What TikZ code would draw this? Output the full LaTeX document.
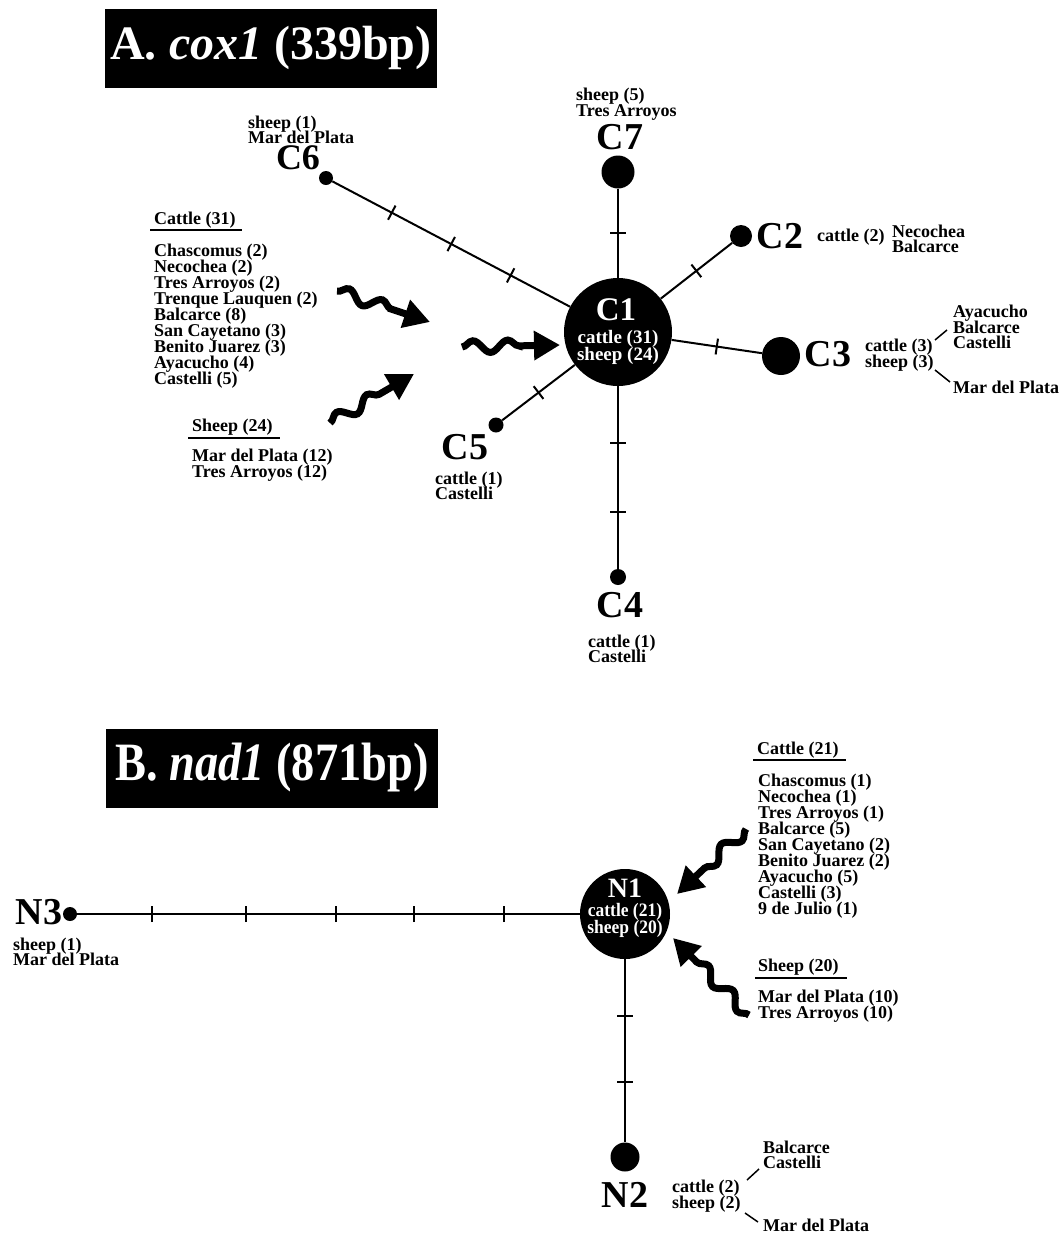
\documentclass[tikz,border=0pt]{standalone}
\usepackage{fontspec}
\usepackage{graphicx}
\setmainfont{Liberation Serif}
\usetikzlibrary{arrows.meta,decorations.pathmorphing,decorations.markings}
\setlength{\lineskiplimit}{-100pt}
\newcommand{\tk}{\draw[line width=2pt] (0pt,-8pt)--(0pt,8pt);}
\tikzset{
 lbl/.style={font=\fontsize{18}{15.5}\selectfont\bfseries, inner sep=0pt, align=left, anchor=west},
 lst/.style={font=\fontsize{18}{16}\selectfont\bfseries, inner sep=0pt, align=left, anchor=west},
 big/.style={font=\fontsize{38}{38}\selectfont\bfseries, inner sep=0pt},
 inw/.style={font=\fontsize{19}{17}\selectfont\bfseries, text=white, inner sep=0pt, align=center},
 dot/.style={circle, fill=black, inner sep=0pt, minimum size=#1},
 edge/.style={line width=2pt},
 wavy/.style={line width=7pt, decorate, decoration={snake, amplitude=6pt, segment length=35pt, post length=26pt}, -{Triangle[length=26pt,width=28pt]}},
 titlebox/.style={fill=black, text=white, inner sep=0pt, minimum width=332pt, minimum height=79pt},
 under/.style={line width=1.5pt},
 thin/.style={line width=1.5pt},
}
\begin{document}
\begin{tikzpicture}[x=1pt,y=-1pt]
\useasboundingbox (0,0) rectangle (1064,1235);

% ---------------- Panel A ----------------
\node[titlebox] (tA) at (271,48) {\fontsize{48}{48}\selectfont\bfseries A. \textit{cox1} (339bp)};

\node[dot=108] (C1) at (618,332) {};
\node[font=\fontsize{33}{33}\selectfont\bfseries, text=white, inner sep=0pt] (C1l) at (616,310) {C1};
\node[inw] (C1c) at (618,347) {cattle (31)\\sheep (24)};

\node[dot=33] (C7) at (618,172) {};
\node[dot=14] (C6) at (326,178) {};
\node[dot=22] (C2) at (741,236) {};
\node[dot=38] (C3) at (781,356) {};
\node[dot=15] (C5) at (496,425) {};
\node[dot=16] (C4) at (618,577) {};

\draw[edge, postaction={decorate, decoration={markings, mark=at position .5 with {\tk}}}] (C7) -- (C1);
\draw[edge, postaction={decorate, decoration={markings, mark=at position .25 with {\tk}, mark=at position .5 with {\tk}, mark=at position .75 with {\tk}}}] (C6) -- (C1);
\draw[edge, postaction={decorate, decoration={markings, mark=at position .5 with {\tk}}}] (C1) -- (C2);
\draw[edge, postaction={decorate, decoration={markings, mark=at position .5 with {\tk}}}] (C1) -- (C3);
\draw[edge, postaction={decorate, decoration={markings, mark=at position .5 with {\tk}}}] (C1) -- (C5);
\draw[edge, postaction={decorate, decoration={markings, mark=at position .31 with {\tk}, mark=at position .69 with {\tk}}}] (C1) -- (C4);

\node[font=\fontsize{36}{36}\selectfont\bfseries, inner sep=0pt] (C6l) at (298,158) {C6};
\node[lbl] (C6i) at (248,130) {sheep (1)\\Mar del Plata};
\node[big] (C7l) at (620,137) {C7};
\node[lbl] (C7i) at (576,104) {sheep (5)\\Tres Arroyos};
\node[big] (C2l) at (780,236) {C2};
\node[lbl] (C2c) at (817,237) {cattle (2)};
\node[lbl] (C2i) at (892,239) {Necochea\\Balcarce};
\node[big] (C3l) at (828,354) {C3};
\node[lbl] (C3c) at (865,355) {cattle (3)\\sheep (3)};
\node[lbl] (C3i) at (953,327) {Ayacucho\\Balcarce\\Castelli};
\node[lbl] (C3j) at (953,387) {Mar del Plata};
\coordinate (c3a) at (935,340); \coordinate (c3b) at (947,330);
\coordinate (c3c) at (935,370); \coordinate (c3d) at (950,382);
\draw[thin] (c3a) -- (c3b);
\draw[thin] (c3c) -- (c3d);
\node[big] (C5l) at (465,447) {C5};
\node[lbl] (C5i) at (435,486) {cattle (1)\\Castelli};
\node[big] (C4l) at (620,605) {C4};
\node[lbl] (C4i) at (588,649) {cattle (1)\\Castelli};

\node[lst] (L1h) at (154,220) {Cattle (31)};
\coordinate (u1a) at (150,230); \coordinate (u1b) at (242,230);
\draw[under] (u1a) -- (u1b);
\node[lst] (L1) at (154,316) {Chascomus (2)\\Necochea (2)\\Tres Arroyos (2)\\Trenque Lauquen (2)\\Balcarce (8)\\San Cayetano (3)\\Benito Juarez (3)\\Ayacucho (4)\\Castelli (5)};
\node[lst] (L2h) at (192,427) {Sheep (24)};
\coordinate (u2a) at (188,438); \coordinate (u2b) at (280,438);
\draw[under] (u2a) -- (u2b);
\node[lst] (L2) at (192,465) {Mar del Plata (12)\\Tres Arroyos (12)};

\coordinate (w1s) at (337,291); \coordinate (w1e) at (430,322);
\coordinate (w2s) at (462,347); \coordinate (w2e) at (560,345);
\coordinate (w3s) at (330,423); \coordinate (w3e) at (414,374);
\draw[wavy] (w1s) -- (w1e);
\draw[wavy] (w2s) -- (w2e);
\draw[wavy] (w3s) -- (w3e);

% ---------------- Panel B ----------------
\node[titlebox] (tB) at (272,768) {\fontsize{54}{54}\selectfont\bfseries\scalebox{0.86}[1]{B. \textit{nad1} (871bp)}};

\node[dot=90] (N1) at (625,914) {};
\node[font=\fontsize{28}{28}\selectfont\bfseries, text=white, inner sep=0pt] (N1l) at (625,888) {N1};
\node[inw] (N1c) at (625,920) {\scalebox{0.92}[1]{cattle (21)}\\\scalebox{0.92}[1]{sheep (20)}};
\node[dot=14] (N3) at (70,914) {};
\node[dot=29] (N2) at (625,1157) {};

\draw[edge, postaction={decorate, decoration={markings, mark=at position .149 with {\tk}, mark=at position .335 with {\tk}, mark=at position .514 with {\tk}, mark=at position .671 with {\tk}, mark=at position .849 with {\tk}}}] (N3) -- (N1);
\draw[edge, postaction={decorate, decoration={markings, mark=at position .31 with {\tk}, mark=at position .67 with {\tk}}}] (N1) -- (N2);

\node[big] (N3l) at (39,912) {N3};
\node[lbl] (N3i) at (13,952) {sheep (1)\\Mar del Plata};
\node[big] (N2l) at (625,1195) {N2};
\node[lbl] (N2c) at (672,1196) {cattle (2)\\sheep (2)};
\node[lbl] (N2i) at (763,1155) {Balcarce\\Castelli};
\node[lbl] (N2j) at (763,1225) {Mar del Plata};
\coordinate (n2a) at (747,1180); \coordinate (n2b) at (759,1169);
\coordinate (n2c) at (745,1213); \coordinate (n2d) at (758,1222);
\draw[thin] (n2a) -- (n2b);
\draw[thin] (n2c) -- (n2d);

\node[lst] (L3h) at (757,750) {Cattle (21)};
\coordinate (u3a) at (753,760); \coordinate (u3b) at (846,760);
\draw[under] (u3a) -- (u3b);
\node[lst] (L3) at (758,846) {Chascomus (1)\\Necochea (1)\\Tres Arroyos (1)\\Balcarce (5)\\San Cayetano (2)\\Benito Juarez (2)\\Ayacucho (5)\\Castelli (3)\\9 de Julio (1)};
\node[lst] (L4h) at (758,967) {Sheep (20)};
\coordinate (u4a) at (755,978); \coordinate (u4b) at (847,978);
\draw[under] (u4a) -- (u4b);
\node[lst] (L4) at (758,1006) {Mar del Plata (10)\\Tres Arroyos (10)};

\coordinate (w4s) at (746,829); \coordinate (w4e) at (677,894);
\coordinate (w5s) at (749,1015); \coordinate (w5e) at (673,938);
\draw[wavy] (w4s) -- (w4e);
\draw[wavy] (w5s) -- (w5e);
\end{tikzpicture}
\end{document}
